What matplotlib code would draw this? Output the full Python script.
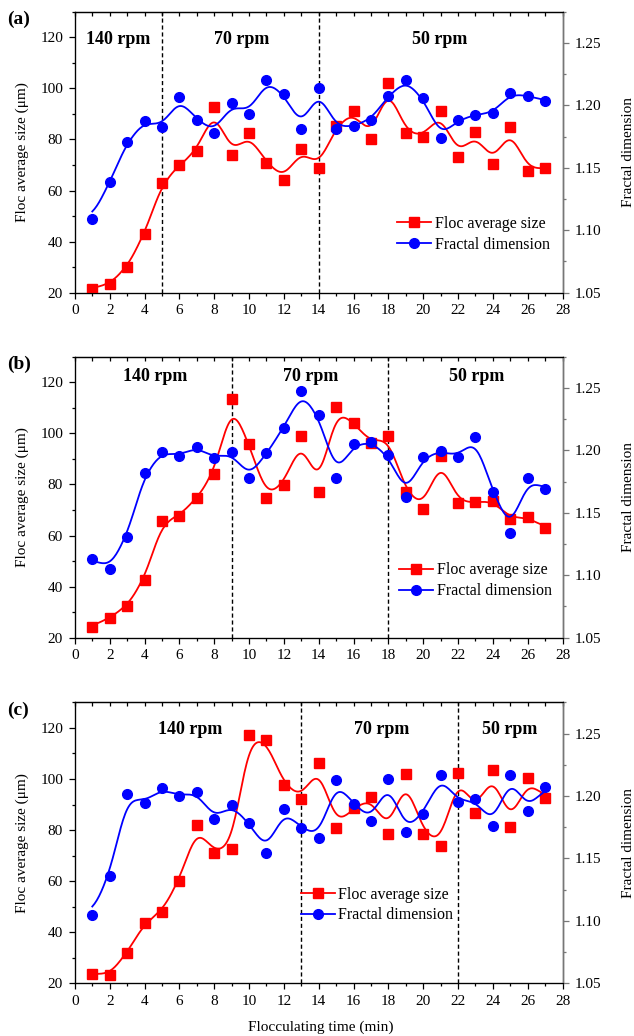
import numpy as np
import matplotlib
matplotlib.use('Agg')
import matplotlib.pyplot as plt
from matplotlib.ticker import MultipleLocator, FormatStrFormatter

plt.rcParams['font.family'] = ['Liberation Serif', 'DejaVu Serif']

# flocculating time (min)
time = [1, 2, 3, 4, 5, 6, 7, 8, 9, 10, 11, 12, 13, 14, 15, 16, 17, 18, 19, 20,
        21, 22, 23, 24, 25, 26, 27]

# floc average size (um) and fractal dimension, panels a-c
size_a = [21.6, 23.3, 29.9, 42.9, 63.0, 70.0, 75.3, 92.8, 73.8, 82.4, 70.8, 64.3, 76.3, 68.8,
          85.4, 91.2, 80.2, 102.2, 82.4, 80.9, 91.0, 73.1, 82.8, 70.3, 85.0, 67.8, 69.0]
fd_a = [1.109, 1.1385, 1.171, 1.1878, 1.1825, 1.2065, 1.1886, 1.178, 1.2017, 1.1934, 1.2206,
        1.2094, 1.1809, 1.214, 1.1812, 1.1836, 1.1884, 1.2078, 1.2206, 1.206, 1.174, 1.1884,
        1.1926, 1.1937, 1.2097, 1.2078, 1.2036]

size_b = [24.3, 27.8, 32.3, 42.7, 65.5, 67.7, 74.6, 84.0, 113.4, 95.7, 74.6, 79.9, 98.9, 76.9,
          110.5, 104.1, 96.1, 99.1, 76.9, 70.4, 91.1, 72.6, 73.1, 73.7, 66.6, 67.3, 62.9]
fd_b = [1.1129, 1.1054, 1.131, 1.1817, 1.199, 1.1958, 1.203, 1.1937, 1.1985, 1.1777, 1.1977,
        1.218, 1.2476, 1.2284, 1.1782, 1.2052, 1.2068, 1.1964, 1.163, 1.195, 1.1996, 1.1948,
        1.211, 1.167, 1.134, 1.1777, 1.1692]

size_c = [23.8, 23.2, 32.0, 43.7, 48.1, 60.1, 82.1, 70.9, 72.6, 117.1, 115.3, 97.7, 92.1, 106.3,
          80.9, 88.6, 93.0, 78.6, 101.8, 78.6, 73.8, 102.5, 86.5, 103.6, 81.3, 100.2, 92.4]
fd_c = [1.105, 1.1362, 1.2014, 1.1948, 1.2062, 1.1998, 1.2036, 1.1812, 1.1932, 1.1786, 1.1546,
        1.1894, 1.1746, 1.166, 1.213, 1.1938, 1.1796, 1.2134, 1.171, 1.1858, 1.2172, 1.195,
        1.1974, 1.1756, 1.2172, 1.1882, 1.2076]

# stage boundaries and labels
bounds = [[5, 14], [9, 18], [13, 22]]
rpm_labels = ['140 rpm', '70 rpm', '50 rpm']
rpm_x = [[2.5, 9.57, 20.96], [4.6, 13.55, 23.05], [6.61, 17.59, 24.99]]
rpm_y = [119.1, 122.2, 119.2]
panel_names = ['(a)', '(b)', '(c)']


def smooth(x, y, s=0.6, n=400):
    # gaussian kernel smoothing of the measured points
    x = np.asarray(x, float)
    y = np.asarray(y, float)
    xs = np.linspace(x.min(), x.max(), n)
    w = np.exp(-0.5 * ((xs[:, None] - x[None, :]) / s) ** 2)
    return xs, (w @ y) / w.sum(axis=1)


fig = plt.figure(figsize=(6.34, 10.36), dpi=100)

sizes = [size_a, size_b, size_c]
fds = [fd_a, fd_b, fd_c]
bottoms = [0.7175, 0.3845, 0.0509]
leg_pos = [(0.661, 0.208), (0.665, 0.2025), (0.4636, 0.279)]

for i in range(3):
    ax = fig.add_axes([0.1181, bottoms[i], 0.7692, 0.2711])
    ax2 = ax.twinx()

    xs, ys = smooth(time, sizes[i])
    ax.plot(xs, ys, color='#ff0000', lw=1.3, zorder=3)
    ax.plot(time, sizes[i], 's', color='#ff0000', ms=6.5, zorder=4)
    l1, = ax.plot([], [], '-s', color='#ff0000', lw=1.3, ms=6.5)

    xs, ys = smooth(time, fds[i])
    ax2.plot(xs, ys, color='#0000ff', lw=1.3, zorder=3)
    ax2.plot(time, fds[i], 'o', color='#0000ff', ms=7, zorder=4)
    l2, = ax2.plot([], [], '-o', color='#0000ff', lw=1.3, ms=7)

    for b in bounds[i]:
        ax.axvline(b, color='black', ls=(0, (3, 2)), lw=1.0)

    for lab, xx in zip(rpm_labels, rpm_x[i]):
        ax.text(xx, rpm_y[i], lab, ha='center', va='center', fontsize=13, fontweight='bold')

    ax.set_xlim(0, 28)
    ax.set_ylim(20, 130)
    ax2.set_ylim(1.05, 1.275)

    ax.xaxis.set_major_locator(MultipleLocator(2))
    ax.xaxis.set_minor_locator(MultipleLocator(1))
    ax.yaxis.set_major_locator(MultipleLocator(20))
    ax.yaxis.set_minor_locator(MultipleLocator(10))
    ax2.yaxis.set_major_locator(MultipleLocator(0.05))
    ax2.yaxis.set_minor_locator(MultipleLocator(0.025))
    ax2.yaxis.set_major_formatter(FormatStrFormatter('%.2f'))
    ax.set_yticks([20, 40, 60, 80, 100, 120])

    ax.tick_params(axis='both', which='major', direction='out', length=4.5, width=0.9,
                   labelsize=11, pad=4)
    ax.tick_params(axis='both', which='minor', direction='out', length=2.5, width=0.9)
    ax2.tick_params(axis='y', which='major', direction='out', length=4.5, width=0.9,
                    labelsize=11, pad=4, color='#777777')
    ax2.tick_params(axis='y', which='minor', direction='out', length=2.5, width=0.9,
                    color='#777777')

    top = ax.secondary_xaxis('top')
    top.xaxis.set_major_locator(MultipleLocator(1))
    top.tick_params(axis='x', direction='in', length=3, width=0.9, labeltop=False)

    for sp in ax.spines.values():
        sp.set_linewidth(0.9)
    ax2.spines['right'].set_color('#777777')
    ax2.spines['right'].set_linewidth(1.0)

    ax.set_ylabel('Floc average size (μm)', fontsize=11)
    ax.yaxis.set_label_coords(-0.095, 0.5)
    ax2.set_ylabel('Fractal dimension', fontsize=11)
    ax2.yaxis.set_label_coords(1.122, 0.5)

    ax.text(-0.139, 0.9715, panel_names[i], transform=ax.transAxes, ha='left', va='center',
            fontsize=14, fontweight='bold')

    ax2.legend([l1, l2], ['Floc average size', 'Fractal dimension'], loc='center left',
               bbox_to_anchor=leg_pos[i], frameon=False, fontsize=11.5, borderpad=0,
               borderaxespad=0, handlelength=2.1, handletextpad=0.25, labelspacing=0.3)

    if i == 2:
        ax.set_xlabel('Flocculating time (min)', fontsize=11)
        ax.xaxis.set_label_coords(0.504, -0.134)

fig.savefig('out.png', dpi=100)
